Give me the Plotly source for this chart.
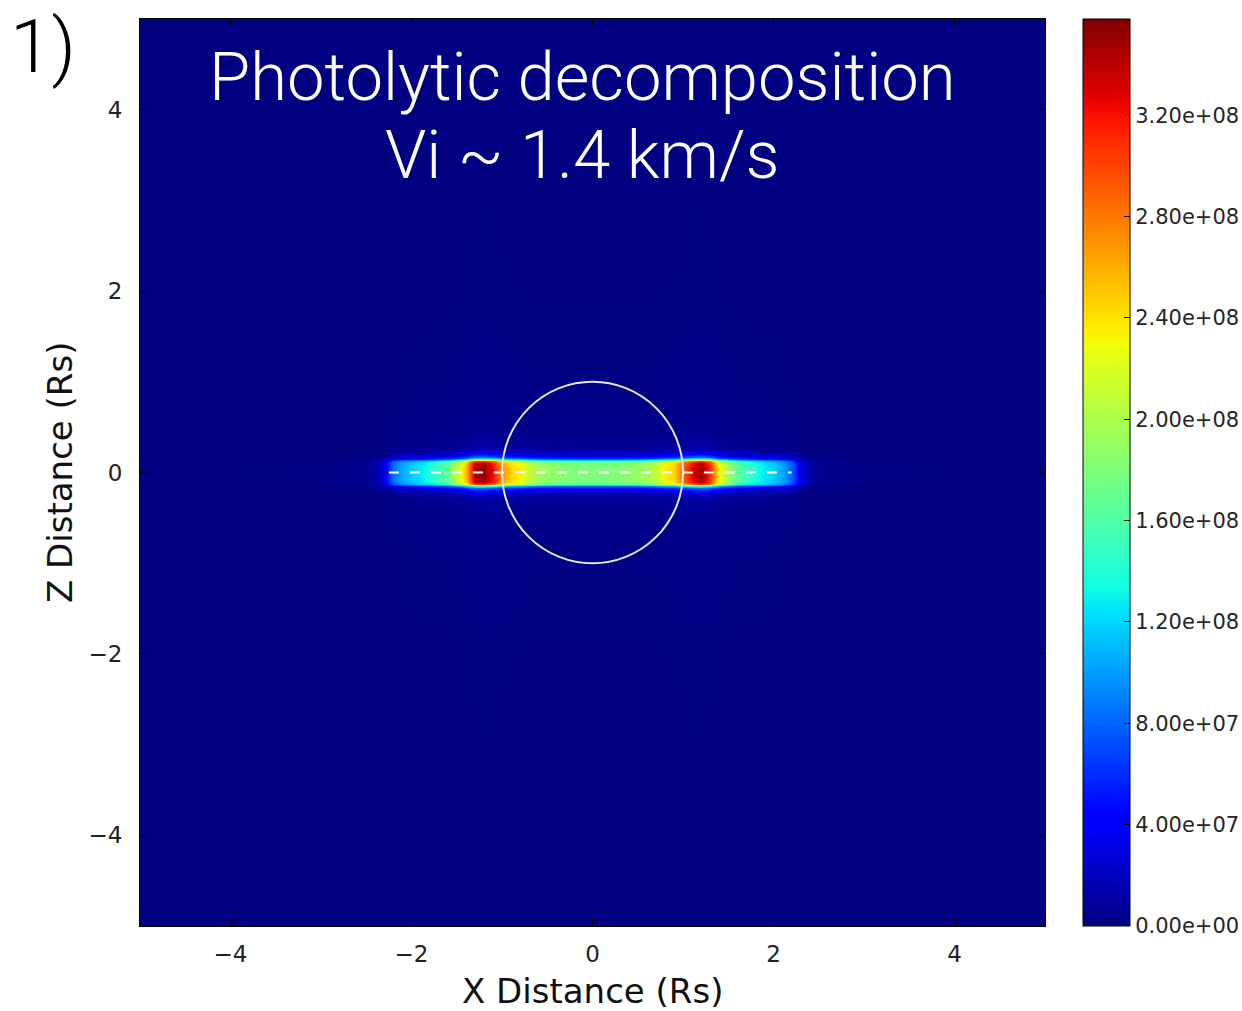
import numpy as np
import plotly.graph_objects as go

# ---------------- data ----------------
# density profile along the ring plane (z = 0), units of 1e8
x_pos_right = [0.0, 0.1, 0.2, 0.3, 0.4, 0.5, 0.6, 0.7, 0.8, 0.9, 1.0, 1.1, 1.2,
               1.3, 1.4, 1.5, 1.6, 1.7, 1.8, 1.9, 2.0, 2.1, 2.2, 2.3, 2.4,
               2.5, 2.7, 3.0, 3.5, 4.0, 5.0]
dens_right = [1.80, 1.80, 1.80, 1.82, 1.85, 1.90, 1.95, 2.10, 2.35, 2.45, 2.90, 3.25, 3.50,
              3.10, 2.30, 1.95, 1.65, 1.50, 1.38, 1.27, 1.17, 1.02, 0.78, 0.30, 0.12,
              0.05, 0.03, 0.018, 0.009, 0.004, 0.0]
x_pos_left = [-v for v in x_pos_right]
dens_left = [1.80, 1.80, 1.80, 1.82, 1.85, 1.90, 1.95, 2.10, 2.35, 2.45, 2.70, 3.20, 3.50,
             3.45, 2.55, 2.10, 1.70, 1.52, 1.38, 1.27, 1.17, 1.05, 0.85, 0.32, 0.12,
             0.05, 0.03, 0.018, 0.009, 0.004, 0.0]

# vertical (z) falloff of the ring, relative weight
z_pos = [0.0, 0.05, 0.10, 0.125, 0.15, 0.175, 0.20, 0.25, 0.30, 0.50, 1.0, 2.0, 5.0]
z_weight = [1.0, 1.0, 0.98, 0.88, 0.45, 0.24, 0.14, 0.06, 0.03, 0.014, 0.006, 0.002, 0.0]

planet_radius = 1.0
ring_line_x = [-2.25, 2.2]
ring_line_z = [0.0, 0.0]

cbar_vals = [0, 4e7, 8e7, 1.2e8, 1.6e8, 2.0e8, 2.4e8, 2.8e8, 3.2e8]
cbar_text = ["0.00e+00", "4.00e+07", "8.00e+07", "1.20e+08", "1.60e+08",
             "2.00e+08", "2.40e+08", "2.80e+08", "3.20e+08"]
z_max = 3.58e8
axis_ticks = [-4, -2, 0, 2, 4]
axis_ticktext = ["\u22124", "\u22122", "0", "2", "4"]

# ---------------- grid ----------------
xs = x_pos_left[:0:-1] + x_pos_right
prof = dens_left[:0:-1] + dens_right
zs = [-v for v in z_pos[:0:-1]] + z_pos
zw = z_weight[:0:-1] + z_weight
Z = np.outer(np.array(zw), np.array(prof) * 1e8)

# matplotlib 'jet' colormap
def jet_scale():
    r = ([0, 0.35, 0.66, 0.89, 1], [0, 0, 1, 1, 0.5])
    g = ([0, 0.125, 0.375, 0.64, 0.91, 1], [0, 0, 1, 1, 0, 0])
    b = ([0, 0.11, 0.34, 0.65, 1], [0.5, 1, 1, 0, 0])
    stops = sorted(set(r[0] + g[0] + b[0]))
    out = []
    for t in stops:
        rr = np.interp(t, *r); gg = np.interp(t, *g); bb = np.interp(t, *b)
        out.append([t, "rgb(%d,%d,%d)" % (round(rr * 255), round(gg * 255), round(bb * 255))])
    return out

PL, PR, PT, PB = 140, 1045, 19, 926
PW, PH = PR - PL, PB - PT

fig = go.Figure()
fig.add_trace(go.Heatmap(
    x=xs, y=zs, z=Z, zmin=0, zmax=z_max, zsmooth="best",
    colorscale=jet_scale(), showscale=True,
    colorbar=dict(
        x=(1083 - PL) / PW, xanchor="left", xpad=0, ypad=0,
        y=0.5, yanchor="middle", len=1, lenmode="fraction",
        thickness=47, thicknessmode="pixels",
        outlinewidth=1, outlinecolor="black",
        tickmode="array", tickvals=cbar_vals, ticktext=cbar_text,
        ticks="inside", ticklen=6, tickcolor="black",
        tickfont=dict(family="DejaVu Sans", size=21, color="#262626"),
    ),
    hoverinfo="skip",
))

fig.add_trace(go.Scatter(
    x=ring_line_x, y=ring_line_z, mode="lines",
    line=dict(color="white", width=2, dash="10px,11px"),
    showlegend=False, hoverinfo="skip",
))

fig.add_shape(type="circle", xref="x", yref="y",
              x0=-planet_radius, x1=planet_radius, y0=-planet_radius, y1=planet_radius,
              line=dict(color="#E6E6E6", width=2))

axis_common = dict(
    range=[-5, 5], tickmode="array", tickvals=axis_ticks, ticktext=axis_ticktext,
    ticks="inside", ticklen=6, tickwidth=1, tickcolor="black",
    showline=True, linecolor="black", linewidth=1, mirror="ticks",
    showgrid=False, zeroline=False,
    tickfont=dict(family="DejaVu Sans", size=23, color="#222222"),
)
fig.update_xaxes(**axis_common, ticklabelstandoff=7)
fig.update_yaxes(**axis_common, ticklabelstandoff=12)

title_font = dict(family="Roboto", size=67, color="white", weight=300)
fig.update_layout(
    width=1242, height=1011,
    margin=dict(l=PL, r=1242 - PR, t=PT, b=1011 - PB, autoexpand=False),
    paper_bgcolor="white", plot_bgcolor="white",
    showlegend=False,
    annotations=[
        dict(text="Photolytic decomposition", x=(582 - PL) / PW, y=(PB - 36) / PH,
             xref="paper", yref="paper", xanchor="center", yanchor="top", showarrow=False,
             font=title_font),
        dict(text="Vi ~ 1.4 km/s", x=(582 - PL) / PW, y=(PB - 114) / PH,
             xref="paper", yref="paper", xanchor="center", yanchor="top", showarrow=False,
             font=title_font),
        dict(text="1)", x=(8 - PL) / PW, y=(PB - 0) / PH, xref="paper", yref="paper",
             xanchor="left", yanchor="top", showarrow=False,
             font=dict(family="Roboto", size=75, color="black", weight=300)),
        dict(text="X Distance (Rs)", x=(592 - PL) / PW, y=(PB - 991) / PH,
             xref="paper", yref="paper", xanchor="center", yanchor="middle", showarrow=False,
             font=dict(family="DejaVu Sans", size=34, color="#111111")),
        dict(text="Z Distance (Rs)", x=(60 - PL) / PW, y=(PB - 473) / PH,
             xref="paper", yref="paper", xanchor="center", yanchor="middle", showarrow=False,
             textangle=-90, font=dict(family="DejaVu Sans", size=34, color="#111111")),
    ],
)

fig.write_html("out.html")
